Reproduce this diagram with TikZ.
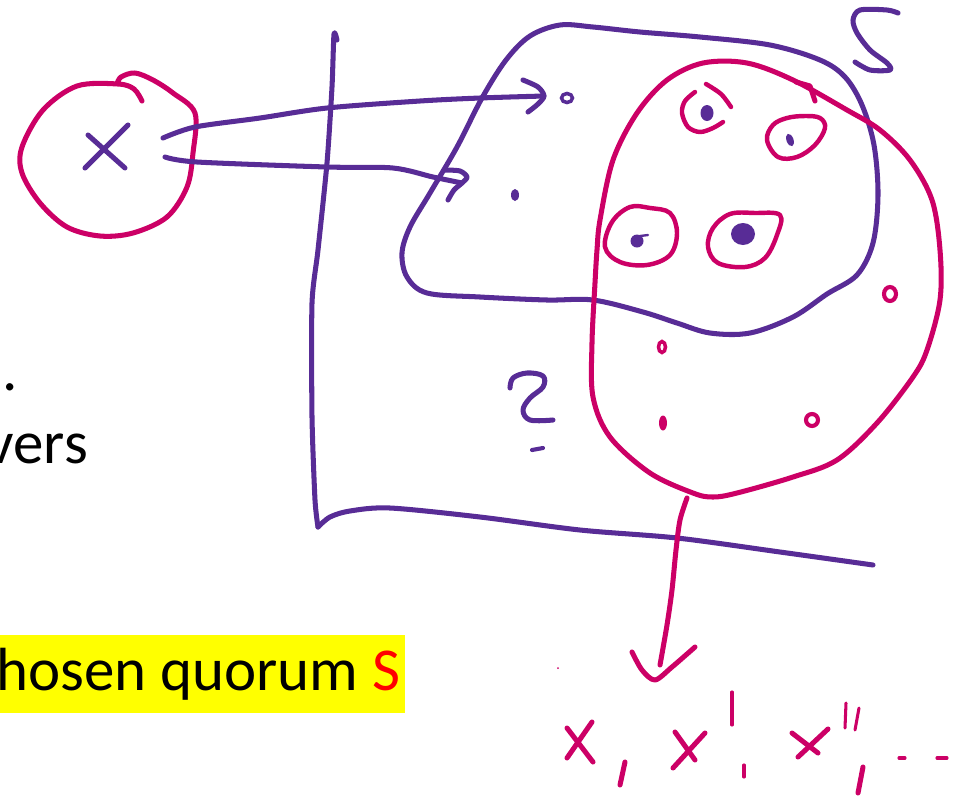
\documentclass[tikz,border=0pt]{standalone}
\usepackage{fontspec}
\setmainfont{Carlito}
\definecolor{purp}{RGB}{88,44,150}
\definecolor{mag}{RGB}{204,0,102}
\definecolor{hl}{RGB}{255,255,0}
\begin{document}
\begin{tikzpicture}[x=0.03cm,y=-0.03cm,
  pp/.style={draw=purp,line width=4.3pt,line cap=round,line join=round},
  mm/.style={draw=mag,line width=4.3pt,line cap=round,line join=round},
  thin/.style={line width=2.6pt},
  big/.style={inner sep=0pt,font=\fontsize{52}{62}\selectfont}]
\useasboundingbox (0,0) rectangle (966,798);

% ---- slide text fragments
\fill[hl] (0,635) rectangle (405,713);
\node[big,anchor=base west] (quorum) at (-4,690) {hosen quorum \textcolor{red}{S}};
\node[big,anchor=base east] (vers) at (88,463) {vers};
\node[big,anchor=base west] (dot) at (2,390) {.};

% ---- client circle with x
\draw[mm] plot[smooth,tension=0.55] coordinates {(142,101) (134,89) (118,84) (77,86) (43,110) (22,147) (22,173) (40,203) (67,227) (100,236) (133,233) (167,217) (187,187) (193,153) (195,113) (173,93) (153,80) (135,73) (121,77) (117,84)};
\draw[pp] (88,135) -- (125,168);
\draw[pp] (128,125) -- (85,168);

% ---- axis
\draw[pp] plot[smooth,tension=0.4] coordinates {(337,40) (334,34) (332,87) (327,163) (318,250) (312,303) (312,417) (315,500) (318,527)};
\draw[pp] plot[smooth,tension=0.5] coordinates {(318,527) (330,517) (350,511) (390,508) (480,517) (580,530) (677,538) (780,552) (873,565)};

% ---- purple set S
\draw[pp] plot[smooth cycle,tension=0.55] coordinates {(560,25) (593,27) (640,32) (700,37) (770,45) (820,60) (845,77) (862,105) (874,145) (878,195) (873,243) (857,275) (827,294) (793,317) (750,333) (710,333) (677,323) (643,312) (593,300) (547,300) (480,297) (427,293) (407,277) (402,253) (410,227) (430,193) (457,147) (482,98) (506,60) (530,36)};
\draw[pp] plot[smooth,tension=0.5] coordinates {(898,13) (887,10) (860,10) (853,20) (857,33) (870,50) (887,63) (890,70) (870,70) (855,62)};

% ---- magenta quorum blob
\draw[mm] plot[smooth cycle,tension=0.55] coordinates {(597,250) (600,220) (613,160) (637,113) (667,80) (703,63) (747,63) (793,80) (847,110) (880,130) (910,160) (932,200) (940,250) (940,300) (927,350) (913,377) (877,423) (837,460) (793,477) (737,493) (713,497) (693,493) (650,473) (610,437) (593,397) (592,343) (595,283)};
\draw[mm] (796,82) -- (810,86) -- (815,101);

% ---- arrows from client
\coordinate (a1s) at (163,138);
\coordinate (a1e) at (544,96);
\coordinate (a2s) at (165,157);
\coordinate (a2e) at (462,183);
\draw[pp] plot[smooth,tension=0.5] coordinates {(a1s) (195,127) (260,118) (327,108) (420,101) (480,98) (a1e)};
\draw[pp] plot[smooth,tension=0.5] coordinates {(523,80) (538,87) (a1e) (538,104) (528,112)};
\draw[pp] plot[smooth,tension=0.5] coordinates {(a2s) (197,162) (327,167) (393,168) (433,177) (a2e)};
\draw[pp] plot[smooth,tension=0.5] coordinates {(445,170) (460,171) (467,177) (a2e) (454,190) (448,200)};

% ---- purple points outside quorum
\draw[draw=purp,line width=3pt] (567,98) ellipse [x radius=5.5, y radius=4.5];
\fill[purp] (515,195) ellipse [x radius=4, y radius=6];

% ---- quorum members (rings with purple dots)
\draw[mm,line width=3.8pt] plot[smooth,tension=0.55] coordinates {(695,92) (685,101) (682,113) (688,127) (700,132) (713,128) (723,122)};
\draw[mm,line width=3.8pt] plot[smooth,tension=0.55] coordinates {(706,84) (721,94) (731,107)};
\fill[purp] (707,113) ellipse [x radius=6.5, y radius=8];
\draw[mm,line width=3.8pt] plot[smooth cycle,tension=0.6] coordinates {(767,140) (773,125) (787,118) (805,116) (820,118) (825,128) (815,145) (797,157) (778,157)};
\fill[purp,rotate around={20:(790,140)}] (790,140) ellipse [x radius=3.5, y radius=6.5];
\draw[mm,line width=3.8pt] plot[smooth cycle,tension=0.6] coordinates {(605,247) (612,222) (630,207) (650,208) (670,213) (677,233) (670,255) (647,265) (620,262)};
\fill[purp] (637,241) circle [radius=6.5];
\draw[draw=purp,line width=2pt,line cap=round] (640,236) -- (648,235);
\draw[mm,line width=3.8pt] plot[smooth cycle,tension=0.6] coordinates {(708,247) (713,228) (730,214) (755,213) (780,215) (777,235) (765,258) (745,267) (718,263)};
\fill[purp] (743,234) ellipse [x radius=12, y radius=11];

% ---- magenta points not chosen
\draw[draw=mag,line width=3.5pt] (890,294) ellipse [x radius=6, y radius=7];
\draw[draw=mag,line width=3pt] (662,347) ellipse [x radius=3.5, y radius=5.5];
\fill[mag] (663,423) ellipse [x radius=4, y radius=7.5];
\draw[draw=mag,line width=3.5pt] (812,420) ellipse [x radius=6, y radius=6];

% ---- question mark
\draw[pp] plot[smooth,tension=0.6] coordinates {(510,388) (513,378) (527,373) (543,376) (543,387) (530,398) (523,410) (530,420) (553,420)};
\draw[pp,line width=3.5pt] (532,450) -- (543,448);

% ---- result arrow
\coordinate (ds) at (687,498);
\coordinate (de) at (660,665);
\draw[mm] plot[smooth,tension=0.5] coordinates {(ds) (680,520) (676,550) (672,590) (667,625) (de)};
\draw[mm] plot[smooth,tension=0.5] coordinates {(632,652) (642,670) (655,680) (672,667) (695,647)};

% ---- x, x', x'', ...
\draw[mm] (567,728) -- (593,762);
\draw[mm] (592,722) -- (567,758);
\draw[mm] (625,762) -- (620,785);
\draw[mm] (675,732) -- (695,760);
\draw[mm] (705,733) -- (673,768);
\draw[mm,thin] (732,692) -- (732,725);
\draw[mm,thin] (744,765) -- (744,777);
\draw[mm] (792,733) -- (818,753);
\draw[mm] (828,729) -- (798,757);
\draw[mm,thin] (846,703) -- (845,728);
\draw[mm,thin] (859,708) -- (855,730);
\draw[mm] (863,767) -- (858,793);
\draw[mm,thin] (899,758) -- (905,758);
\draw[mm,thin] (937,758) -- (947,758);
\fill[mag] (558,668) circle [radius=1];
\end{tikzpicture}
\end{document}
